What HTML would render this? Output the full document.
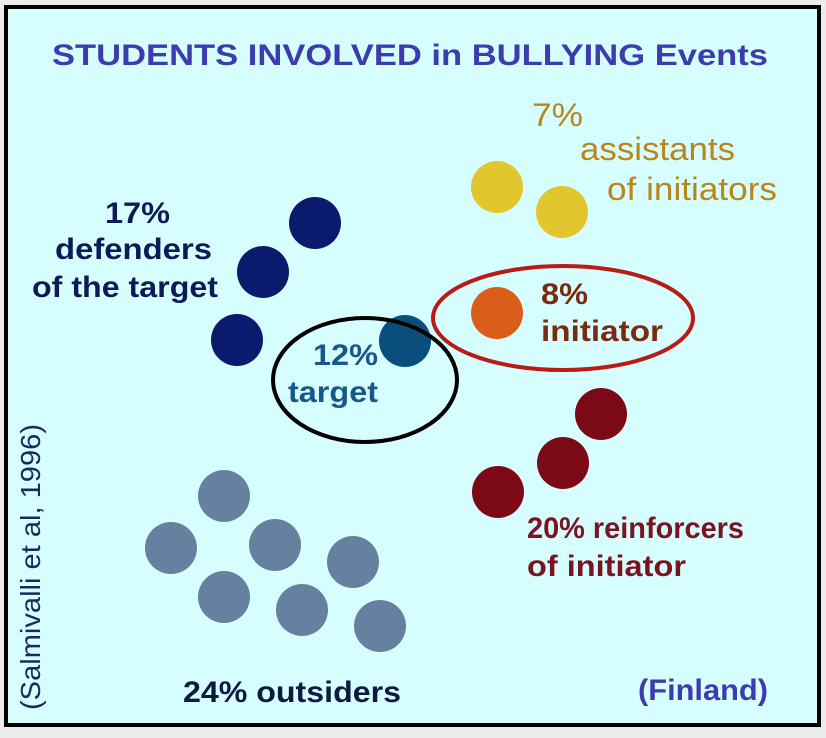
<!DOCTYPE html>
<html><head><style>
html,body{margin:0;padding:0;background:#fff;}
svg{display:block;}
</style></head><body>
<svg width="826" height="738" xmlns="http://www.w3.org/2000/svg" font-family="Liberation Sans, sans-serif">
<rect x="0" y="0" width="826" height="738" fill="#ececec"/>
<rect x="6" y="7" width="813" height="718" fill="#d6fefe" stroke="#000" stroke-width="4"/>
<text x="52" y="65" font-size="30" font-weight="bold" fill="#3c3cae" textLength="716" lengthAdjust="spacingAndGlyphs">STUDENTS INVOLVED in BULLYING Events</text>
<g fill="#b8861c" font-size="32">
<text x="532" y="126" textLength="51" lengthAdjust="spacingAndGlyphs">7%</text>
<text x="580" y="160" textLength="155" lengthAdjust="spacingAndGlyphs">assistants</text>
<text x="607" y="200" textLength="170" lengthAdjust="spacingAndGlyphs">of initiators</text>
</g>
<circle cx="497" cy="187" r="26" fill="#e2c62e"/>
<circle cx="562" cy="212" r="26" fill="#e2c62e"/>
<circle cx="497" cy="313" r="26" fill="#da5e1a"/>
<ellipse cx="563" cy="318" rx="130" ry="52" fill="none" stroke="#b81c14" stroke-width="4"/>
<g fill="#7a2a10" font-size="30" font-weight="bold">
<text x="541" y="304" textLength="47" lengthAdjust="spacingAndGlyphs">8%</text>
<text x="541" y="341" textLength="122" lengthAdjust="spacingAndGlyphs">initiator</text>
</g>
<g fill="#0a1a6c">
<circle cx="315" cy="223" r="26"/><circle cx="263" cy="272" r="26"/><circle cx="237" cy="340" r="26"/>
</g>
<g fill="#0e1a58" font-size="30" font-weight="bold">
<text x="105" y="223" textLength="65" lengthAdjust="spacingAndGlyphs">17%</text>
<text x="55" y="259" textLength="157" lengthAdjust="spacingAndGlyphs">defenders</text>
<text x="32" y="297" textLength="186" lengthAdjust="spacingAndGlyphs">of the target</text>
</g>
<circle cx="405" cy="341" r="26" fill="#0a4e7c"/>
<ellipse cx="365" cy="380" rx="92" ry="62" fill="none" stroke="#000" stroke-width="4"/>
<g fill="#17588a" font-size="30" font-weight="bold">
<text x="313" y="365" textLength="65" lengthAdjust="spacingAndGlyphs">12%</text>
<text x="288" y="402" textLength="90" lengthAdjust="spacingAndGlyphs">target</text>
</g>
<g fill="#7c0a16">
<circle cx="601" cy="414" r="26"/><circle cx="563" cy="463" r="26"/><circle cx="498" cy="492" r="26"/>
</g>
<g fill="#7a1420" font-size="30" font-weight="bold">
<text x="527" y="538" textLength="217" lengthAdjust="spacingAndGlyphs">20% reinforcers</text>
<text x="527" y="576" textLength="159" lengthAdjust="spacingAndGlyphs">of initiator</text>
</g>
<g fill="#6680a0">
<circle cx="224" cy="496" r="26"/><circle cx="171" cy="548" r="26"/><circle cx="275" cy="545" r="26"/>
<circle cx="353" cy="562" r="26"/><circle cx="224" cy="597" r="26"/><circle cx="302" cy="610" r="26"/><circle cx="380" cy="626" r="26"/>
</g>
<text x="183" y="702" fill="#0e1a40" font-size="30" font-weight="bold" textLength="218" lengthAdjust="spacingAndGlyphs">24% outsiders</text>
<text x="638" y="700" fill="#3c3cae" font-size="30" font-weight="bold" textLength="130" lengthAdjust="spacingAndGlyphs">(Finland)</text>
<text transform="translate(40,710) rotate(-90)" fill="#1a2a5c" font-size="28" textLength="286" lengthAdjust="spacingAndGlyphs">(Salmivalli et al, 1996)</text>
</svg>
</body></html>
